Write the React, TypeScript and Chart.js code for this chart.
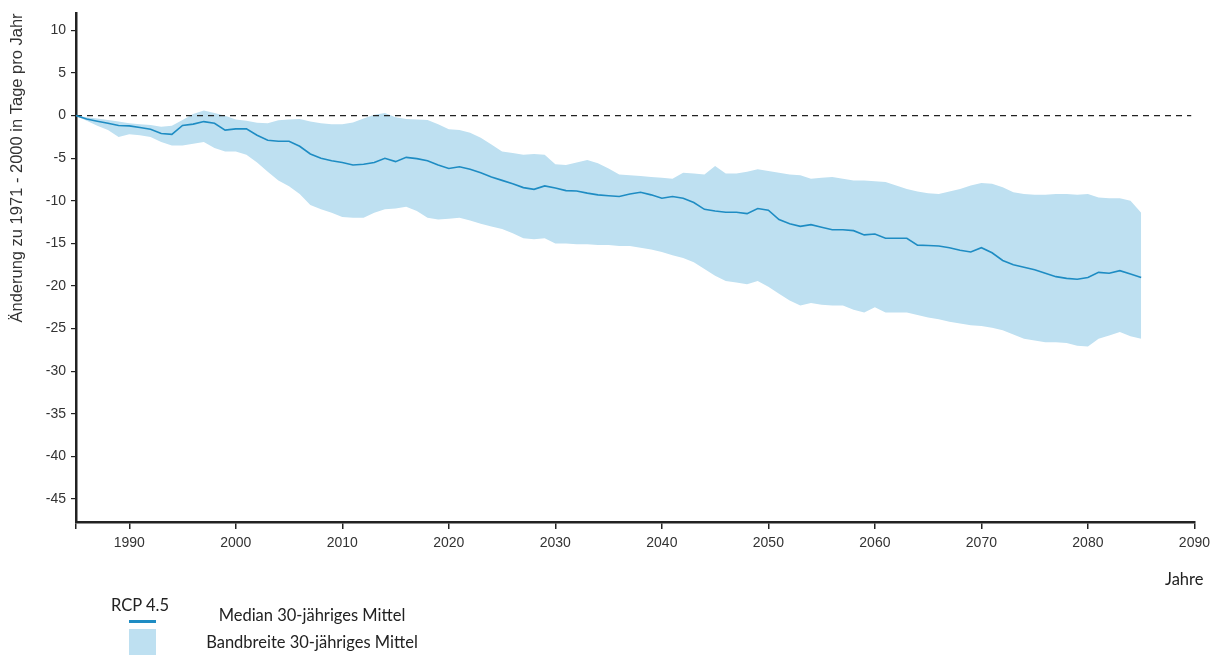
import React, { useEffect, useRef } from "react";
import { Chart, registerables } from "chart.js";

Chart.register(...registerables);

const years: number[] = [];
for (let y = 1985; y <= 2085; y++) years.push(y);

const median: number[] = [
  0, -0.4, -0.65, -0.9, -1.15, -1.2, -1.4, -1.6, -2.1, -2.2,
  -1.15, -1.0, -0.7, -0.9, -1.7, -1.55, -1.55, -2.3, -2.9, -3.0,
  -3.0, -3.6, -4.5, -5.0, -5.3, -5.5, -5.8, -5.7, -5.5, -5.0,
  -5.4, -4.9, -5.05, -5.3, -5.8, -6.2, -6.0, -6.3, -6.7, -7.2,
  -7.6, -8.0, -8.45, -8.65, -8.25, -8.5, -8.8, -8.85, -9.1, -9.3,
  -9.4, -9.5, -9.2, -9.0, -9.3, -9.7, -9.5, -9.7, -10.2, -11.0,
  -11.2, -11.35, -11.35, -11.5, -10.9, -11.1, -12.2, -12.7, -13.0, -12.8,
  -13.1, -13.4, -13.4, -13.5, -14.0, -13.9, -14.4, -14.4, -14.4, -15.2,
  -15.25, -15.3, -15.5, -15.8, -16.0, -15.5, -16.1, -17.0, -17.5, -17.8,
  -18.1, -18.5, -18.9, -19.1, -19.2, -19.0, -18.4, -18.5, -18.2, -18.6,
  -19.0,
];

const upper: number[] = [
  0, -0.2, -0.35, -0.5, -0.7, -0.9, -1.0, -1.1, -1.3, -1.2,
  -0.5, 0.2, 0.6, 0.3, 0.0, -0.45, -0.6, -0.85, -0.9, -0.55,
  -0.45, -0.4, -0.7, -0.9, -1.0, -1.0, -0.8, -0.35, 0.1, 0.3,
  -0.2, -0.4, -0.45, -0.5, -1.0, -1.6, -1.7, -2.0, -2.6, -3.4,
  -4.2, -4.4, -4.6, -4.5, -4.6, -5.7, -5.8, -5.5, -5.2, -5.6,
  -6.2, -6.9, -7.0, -7.1, -7.2, -7.3, -7.4, -6.7, -6.8, -6.9,
  -5.9, -6.8, -6.8, -6.6, -6.3, -6.5, -6.7, -6.9, -7.0, -7.4,
  -7.3, -7.2, -7.4, -7.6, -7.6, -7.7, -7.8, -8.2, -8.6, -8.9,
  -9.1, -9.2, -8.9, -8.6, -8.2, -7.9, -8.0, -8.4, -9.0, -9.2,
  -9.3, -9.3, -9.2, -9.2, -9.3, -9.2, -9.6, -9.7, -9.7, -10.0,
  -11.4,
];

const lower: number[] = [
  0, -0.6, -1.2, -1.7, -2.5, -2.2, -2.3, -2.5, -3.1, -3.5,
  -3.5, -3.3, -3.1, -3.8, -4.2, -4.2, -4.6, -5.5, -6.6, -7.6,
  -8.3, -9.2, -10.5, -11.0, -11.4, -11.9, -12.0, -12.0, -11.4, -11.0,
  -10.9, -10.7, -11.2, -12.0, -12.2, -12.1, -12.0, -12.3, -12.7, -13.0,
  -13.3, -13.8, -14.4, -14.5, -14.4, -15.0, -15.0, -15.1, -15.1, -15.2,
  -15.2, -15.3, -15.3, -15.5, -15.7, -16.0, -16.4, -16.7, -17.2, -18.0,
  -18.8, -19.4, -19.6, -19.8, -19.4, -20.1, -20.9, -21.7, -22.3, -22.0,
  -22.2, -22.3, -22.3, -22.8, -23.1, -22.5, -23.1, -23.1, -23.1, -23.4,
  -23.7, -23.9, -24.2, -24.4, -24.6, -24.7, -24.9, -25.2, -25.7, -26.2,
  -26.4, -26.6, -26.6, -26.7, -27.0, -27.1, -26.2, -25.8, -25.4, -25.9,
  -26.2,
];

const xTicks: number[] = [1985, 1990, 2000, 2010, 2020, 2030, 2040, 2050, 2060, 2070, 2080, 2090];
const yTicks: number[] = [10, 5, 0, -5, -10, -15, -20, -25, -30, -35, -40, -45];

const yTitle = "Änderung zu 1971 - 2000 in Tage pro Jahr";
const xTitle = "Jahre";
const legendTitle = "RCP 4.5";
const medianLabel = "Median 30-jähriges Mittel";
const bandLabel = "Bandbreite 30-jähriges Mittel";

const LINE_COLOR = "#1e8cc3";
const BAND_COLOR = "#bee0f1";
const AXIS_COLOR = "#222222";

export default function App() {
  const canvasRef = useRef<HTMLCanvasElement | null>(null);

  useEffect(() => {
    const canvas = canvasRef.current;
    if (!canvas) return;
    const toPts = (arr: number[]) => arr.map((v, i) => ({ x: years[i], y: v }));
    const chart = new Chart(canvas, {
      type: "line",
      data: {
        datasets: [
          {
            label: medianLabel,
            data: toPts(median),
            borderColor: LINE_COLOR,
            borderWidth: 1.6,
            pointRadius: 0,
            fill: false,
            tension: 0,
          },
          {
            label: "zero",
            data: [
              { x: 1985, y: 0 },
              { x: 2089.7, y: 0 },
            ],
            borderColor: AXIS_COLOR,
            borderWidth: 1.3,
            borderDash: [6, 5],
            pointRadius: 0,
            fill: false,
          },
          {
            label: "lower",
            data: toPts(lower),
            borderWidth: 0,
            borderColor: "rgba(0,0,0,0)",
            pointRadius: 0,
            fill: false,
          },
          {
            label: bandLabel,
            data: toPts(upper),
            borderWidth: 0,
            borderColor: "rgba(0,0,0,0)",
            backgroundColor: BAND_COLOR,
            pointRadius: 0,
            fill: "-1",
          },
        ],
      },
      options: {
        animation: false,
        responsive: false,
        maintainAspectRatio: false,
        layout: { padding: { left: 0, top: 12, right: 21, bottom: 0 } },
        plugins: {
          legend: { display: false },
          tooltip: { enabled: false },
        },
        scales: {
          x: {
            type: "linear",
            min: 1985,
            max: 2090,
            afterBuildTicks: (scale: any) => {
              scale.ticks = xTicks.map((v) => ({ value: v }));
            },
            afterFit: (scale: any) => {
              scale.height = 78;
            },
            ticks: {
              autoSkip: false,
              maxRotation: 0,
              padding: 6,
              color: "#333",
              font: { family: "'Liberation Sans', Arial, sans-serif", size: 14 },
              callback: (v: any) => (Number(v) === 1985 ? "" : String(v)),
            },
            grid: {
              display: true,
              drawOnChartArea: false,
              drawTicks: true,
              tickLength: 7,
              color: AXIS_COLOR,
              lineWidth: 1.5,
            },
            border: { display: true, color: AXIS_COLOR, width: 2.5 },
          },
          y: {
            type: "linear",
            min: -47.7,
            max: 12,
            afterBuildTicks: (scale: any) => {
              scale.ticks = yTicks.map((v) => ({ value: v }));
            },
            afterFit: (scale: any) => {
              scale.width = 76;
            },
            ticks: {
              padding: 5,
              color: "#333",
              font: { family: "'Liberation Sans', Arial, sans-serif", size: 14 },
              callback: (v: any) => String(v),
            },
            grid: {
              display: true,
              drawOnChartArea: false,
              drawTicks: true,
              tickLength: 5,
              color: AXIS_COLOR,
              lineWidth: 1.2,
            },
            border: { display: true, color: AXIS_COLOR, width: 2.5 },
            title: {
              display: true,
              text: yTitle,
              align: "end",
              color: "#333",
              padding: { top: 8, bottom: 0 },
              font: { family: "'Liberation Sans', Arial, sans-serif", size: 16.5 },
            },
          },
        },
      },
    });
    return () => chart.destroy();
  }, []);

  const legendFont = "Lato, 'Open Sans', sans-serif";
  const textStyle = {
    position: "absolute" as const,
    fontFamily: legendFont,
    fontSize: 16.5,
    color: "#222",
    whiteSpace: "nowrap" as const,
  };

  return (
    <div
      style={{
        position: "fixed",
        left: 0,
        top: 0,
        width: 1216,
        height: 655,
        background: "#ffffff",
        overflow: "hidden",
      }}
    >
      <canvas ref={canvasRef} width={1216} height={600} style={{ position: "absolute", left: 0, top: 0 }} />
      <div style={{ ...textStyle, left: 1165, top: 569 }}>{xTitle}</div>
      <div style={{ ...textStyle, left: 111, top: 595 }}>{legendTitle}</div>
      <div
        style={{
          position: "absolute",
          left: 129,
          top: 620,
          width: 27,
          height: 3,
          background: LINE_COLOR,
        }}
      />
      <div
        style={{
          position: "absolute",
          left: 129,
          top: 629,
          width: 27,
          height: 30,
          background: BAND_COLOR,
        }}
      />
      <div style={{ ...textStyle, left: 162, width: 300, textAlign: "center", top: 605 }}>{medianLabel}</div>
      <div style={{ ...textStyle, left: 162, width: 300, textAlign: "center", top: 632 }}>{bandLabel}</div>
    </div>
  );
}
